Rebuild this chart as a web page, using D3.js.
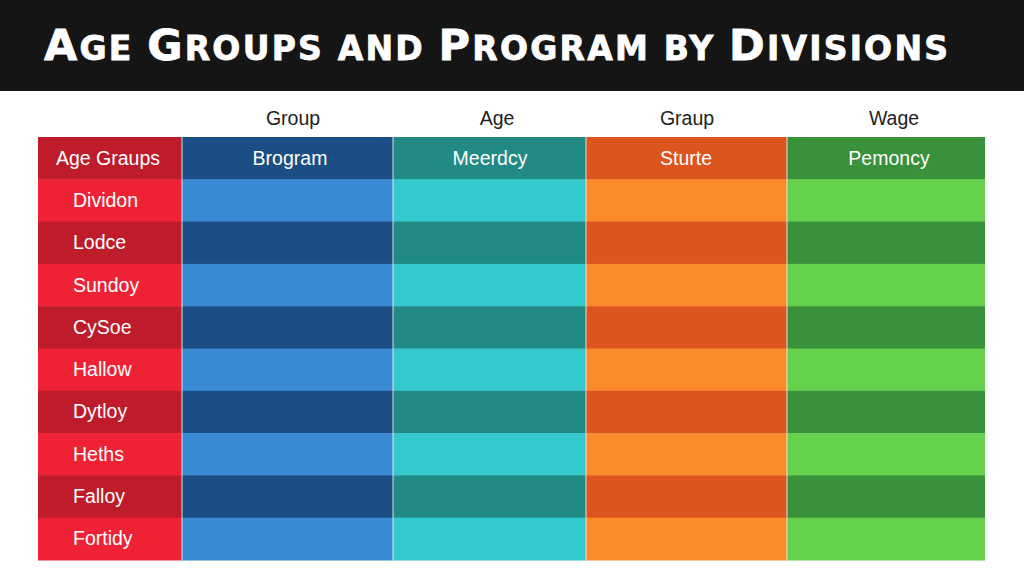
<!DOCTYPE html>
<html><head><meta charset="utf-8">
<script src="https://cdn.jsdelivr.net/npm/d3@7"></script>
<style>body{margin:0;background:#fff;}svg{display:block;}</style>
</head><body>
<svg id="c" width="1024" height="576"></svg>
<script>
const title = "Age Groups and Program by Divisions";
const groupLabels = ["Group", "Age", "Graup", "Wage"];
const columnHeaders = ["Age Graups", "Brogram", "Meerdcy", "Sturte", "Pemoncy"];
const rowLabels = ["Dividon", "Lodce", "Sundoy", "CySoe", "Hallow", "Dytloy", "Heths", "Falloy", "Fortidy"];
// shade level per row: 0 = light, 1 = dark (header row is dark)
const rowShade = [0, 1, 0, 1, 0, 1, 0, 1, 0];
const columnKeys = ["label", "c1", "c2", "c3", "c4"];
const darkColors = ["#be1b2b", "#1b4e85", "#218a85", "#dc541e", "#3a913b"];
const lightColors = ["#ef2235", "#3a8ad4", "#34c9cd", "#fb8a2b", "#65d24e"];

const svg = d3.select("#c");
const W = 1024;

// title bar
svg.append("rect").attr("x",0).attr("y",0).attr("width",W).attr("height",91).attr("fill","#151515");
const tt = svg.append("text").attr("x",44).attr("y",59.5)
  .attr("fill","#fff").attr("stroke","#fff").attr("stroke-width",0.8)
  .attr("font-family","'DejaVu Sans',sans-serif")
  .attr("font-weight","bold")
  .attr("textLength",904).attr("lengthAdjust","spacing");
// manual small caps: keep original text, uppercase lowercase runs visually
const runs = title.match(/[A-Z]+|[^A-Z]+/g);
runs.forEach(r => {
  const isUpper = /^[A-Z]+$/.test(r);
  tt.append("tspan").attr("font-size", isUpper ? 43 : 33)
    .style("text-transform", isUpper ? "none" : "uppercase").text(r);
});

// layout
const colEdges = [38, 182, 393, 586, 787, 985];
const groupCenters = [293, 497, 687, 894];
const headerCenters = [108, 290, 490, 686, 889];
const x = d3.scaleOrdinal().domain(columnKeys).range(colEdges.slice(0,5));
const colW = k => colEdges[columnKeys.indexOf(k)+1] - colEdges[columnKeys.indexOf(k)];
const rowsAll = ["__header"].concat(rowLabels);
const y = d3.scaleBand().domain(rowsAll).range([137, 560]).padding(0);
const shadeAll = [1].concat(rowShade);
const color = (ci, s) => s === 1 ? darkColors[ci] : lightColors[ci];

const g = svg.append("g");
rowsAll.forEach((r, ri) => {
  columnKeys.forEach((k, ci) => {
    g.append("rect").attr("x", x(k)).attr("y", y(r))
      .attr("width", colW(k)).attr("height", y.bandwidth()+0.5)
      .attr("fill", color(ci, shadeAll[ri]));
  });
});
// column separators
columnKeys.slice(1).forEach(k => {
  g.append("line").attr("x1", x(k)).attr("x2", x(k)).attr("y1", 137).attr("y2", 560)
    .attr("stroke","#e8eef0").attr("stroke-width",1.2).attr("stroke-opacity",0.75);
});

const font = "'Liberation Sans', Arial, sans-serif";
groupLabels.forEach((t, i) => {
  svg.append("text").attr("x", groupCenters[i]).attr("y", 125)
    .attr("text-anchor","middle").attr("font-family",font).attr("font-size",19.5)
    .attr("fill","#222").text(t);
});
columnHeaders.forEach((t, i) => {
  svg.append("text").attr("x", headerCenters[i]).attr("y", y("__header") + y.bandwidth()/2 + 6.5)
    .attr("text-anchor","middle").attr("font-family",font).attr("font-size",19.5)
    .attr("fill","#fff").text(t);
});
rowLabels.forEach(r => {
  svg.append("text").attr("x", 73).attr("y", y(r) + y.bandwidth()/2 + 6.5)
    .attr("font-family",font).attr("font-size",19.5).attr("fill","#fff").text(r);
});
</script>
</body></html>
